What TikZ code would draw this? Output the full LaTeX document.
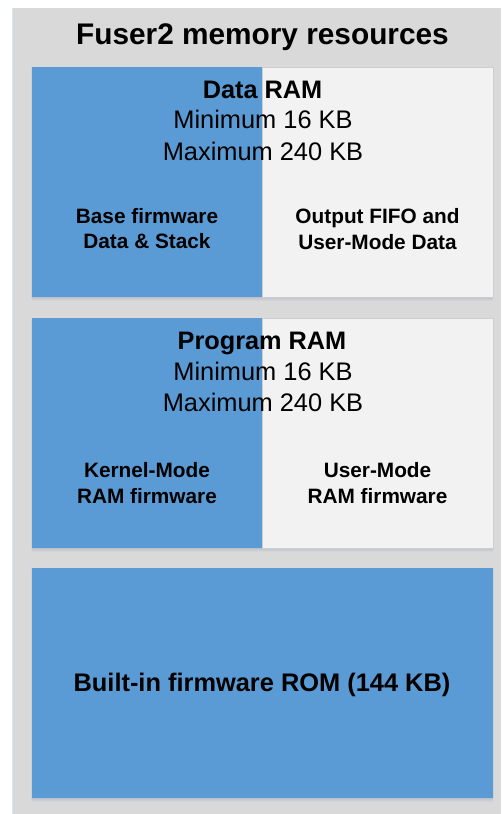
\documentclass[tikz,border=0pt]{standalone}
\usepackage{fontspec}
\setmainfont{Liberation Sans}
\definecolor{outergray}{HTML}{D9D9D9}
\definecolor{memblue}{HTML}{5B9BD5}
\definecolor{memlight}{HTML}{F2F2F2}
\definecolor{shadowcol}{HTML}{9FB0C4}
\tikzset{
  txt/.style={anchor=base, inner sep=0pt, text=black},
  titletxt/.style={txt, font=\fontsize{29.8}{34}\selectfont\bfseries},
  headtxt/.style={txt, font=\fontsize{25.3}{30}\selectfont\bfseries},
  sizetxt/.style={txt, font=\fontsize{25.4}{30}\selectfont},
  parttxt/.style={txt, font=\fontsize{20.8}{25}\selectfont\bfseries},
  romtxt/.style={txt, font=\fontsize{25.4}{30}\selectfont\bfseries},
  shadowbox/.style={fill=shadowcol},
}
\newcommand{\memshadow}[4]{%
  \foreach \k/\op in {4/0.10,3/0.14,2/0.18,1/0.22}{
    \fill[shadowbox, opacity=\op] (#1-1+\k*0.3,#2+\k) rectangle (#3+1-\k*0.3,#4+\k);
  }%
}
\begin{document}
\begin{tikzpicture}[x=1pt,y=-1pt]
\useasboundingbox (0,0) rectangle (501,814);
\fill[white] (0,0) rectangle (501,814);
\fill[outergray] (12,8) rectangle (501,814);
\draw[color=memblue!25, line width=0.6pt] (12.3,8) -- (12.3,814);

% shadows
\memshadow{32}{67}{493}{297}
\memshadow{32}{318}{493}{548}
\memshadow{32}{568}{493}{798}

% Data RAM block
\fill[memblue] (32,67) rectangle (262,297);
\fill[memlight] (262,67) rectangle (493,297);
\draw[memlight!85!black, line width=0.4pt] (262,67) rectangle (493,297);
% Program RAM block
\fill[memblue] (32,318) rectangle (262,548);
\fill[memlight] (262,318) rectangle (493,548);
\draw[memlight!85!black, line width=0.4pt] (262,318) rectangle (493,548);
% ROM block
\fill[memblue] (32,568) rectangle (493,798);

% texts
\node[titletxt] (title) at (262.5,44) {Fuser2 memory resources};

\node[headtxt] (dhead) at (262.5,98) {Data RAM};
\node[sizetxt] (dmin) at (263,128) {Minimum 16 KB};
\node[sizetxt] (dmax) at (263,160) {Maximum 240 KB};
\node[parttxt] (dbase1) at (147,223) {Base firmware};
\node[parttxt] (dbase2) at (147,248) {Data \& Stack};
\node[parttxt] (dout1) at (377.5,223) {Output FIFO and};
\node[parttxt] (dout2) at (377.5,249) {User-Mode Data};

\node[headtxt] (phead) at (262,349) {Program RAM};
\node[sizetxt] (pmin) at (263,380) {Minimum 16 KB};
\node[sizetxt] (pmax) at (263,411) {Maximum 240 KB};
\node[parttxt] (pk1) at (147,477) {Kernel-Mode};
\node[parttxt] (pk2) at (147,503) {RAM firmware};
\node[parttxt] (pu1) at (377.5,477) {User-Mode};
\node[parttxt] (pu2) at (377.5,503) {RAM firmware};

\node[romtxt] (rom) at (262,691) {Built-in firmware ROM (144 KB)};
\end{tikzpicture}
\end{document}
